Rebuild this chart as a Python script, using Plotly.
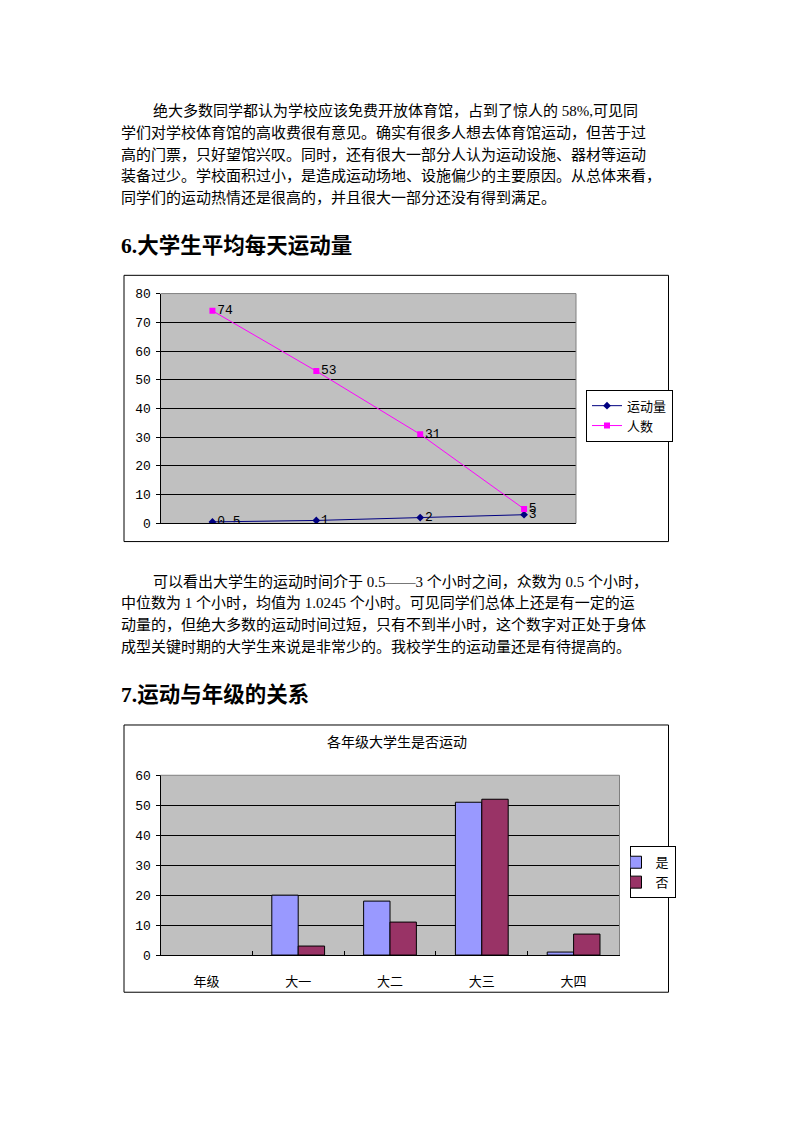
import plotly.graph_objects as go

PAGE_W = 794
OFF = 8  # default body margin of the page
W = PAGE_W - 2 * OFF
H = 1080  # keeps the page shorter than the window (no scrolling)


def px(x):
    return (x - OFF) / W


def py(y):
    return 1 - (y - OFF) / H


# ---------------- data ----------------
line_categories = ["1", "2", "3", "4"]
exercise_hours = [0.5, 1, 2, 3]
people_count = [74, 53, 31, 5]
hours_labels = ["0.5", "1", "2", "3"]
people_labels = ["74", "53", "31", "5"]
line_y_ticks = [0, 10, 20, 30, 40, 50, 60, 70, 80]

grades = ["年级", "大一", "大二", "大三", "大四"]
yes_values = [None, 20, 18, 51, 1]
no_values = [None, 3, 11, 52, 7]
bar_y_ticks = [0, 10, 20, 30, 40, 50, 60]

para1 = [
    "绝大多数同学都认为学校应该免费开放体育馆，占到了惊人的 58%,可见同",
    "学们对学校体育馆的高收费很有意见。确实有很多人想去体育馆运动，但苦于过",
    "高的门票，只好望馆兴叹。同时，还有很大一部分人认为运动设施、器材等运动",
    "装备过少。学校面积过小，是造成运动场地、设施偏少的主要原因。从总体来看，",
    "同学们的运动热情还是很高的，并且很大一部分还没有得到满足。",
]
para2 = [
    "可以看出大学生的运动时间介于 0.5——3 个小时之间，众数为 0.5 个小时，",
    "中位数为 1 个小时，均值为 1.0245 个小时。可见同学们总体上还是有一定的运",
    "动量的，但绝大多数的运动时间过短，只有不到半小时，这个数字对正处于身体",
    "成型关键时期的大学生来说是非常少的。我校学生的运动量还是有待提高的。",
]
heading1 = "6.大学生平均每天运动量"
heading2 = "7.运动与年级的关系"
bar_title = "各年级大学生是否运动"

TEXT_FONT = "Liberation Serif, Noto Sans CJK SC"
CJK = "Noto Sans CJK SC"
NUM = "Liberation Mono, Noto Sans CJK SC"

fig = go.Figure()

# line chart
fig.add_trace(go.Scatter(
    x=line_categories, y=exercise_hours, name="运动量",
    mode="lines+markers+text", text=hours_labels, textposition="middle right",
    textfont=dict(family=NUM, size=13, color="black"),
    line=dict(color="#000080", width=1),
    marker=dict(symbol="diamond", size=6, color="#000080"),
    xaxis="x", yaxis="y", legend="legend",
))
fig.add_trace(go.Scatter(
    x=line_categories, y=people_count, name="人数",
    mode="lines+markers+text", text=people_labels, textposition="middle right",
    textfont=dict(family=NUM, size=13, color="black"),
    line=dict(color="#FF00FF", width=1),
    marker=dict(symbol="square", size=6, color="#FF00FF"),
    xaxis="x", yaxis="y", legend="legend",
))

# bar chart
fig.add_trace(go.Bar(
    x=grades, y=yes_values, name="是",
    marker=dict(color="#9999FF", line=dict(color="black", width=1)),
    xaxis="x2", yaxis="y2", legend="legend2",
))
fig.add_trace(go.Bar(
    x=grades, y=no_values, name="否",
    marker=dict(color="#993366", line=dict(color="black", width=1)),
    xaxis="x2", yaxis="y2", legend="legend2",
))

# chart geometry (page pixels)
c1 = dict(l=160.5, r=576, t=291.5, b=524.5)
c2 = dict(l=160.5, r=619.5, t=780, b=962.3)

fig.update_layout(
    width=W, height=H,
    margin=dict(l=0, r=0, t=0, b=0),
    paper_bgcolor="white",
    plot_bgcolor="#C0C0C0",
    barmode="group", bargap=0.425, bargroupgap=0,
    font=dict(family=CJK, color="black"),
    xaxis=dict(
        domain=[px(c1["l"]), px(c1["r"])], anchor="y", type="category",
        range=[-0.5, 3.5], showticklabels=False, ticks="",
        showline=True, linecolor="black", linewidth=1,
        showgrid=False, zeroline=False,
    ),
    yaxis=dict(
        domain=[py(c1["b"]), py(c1["t"])], anchor="x",
        range=[0, 80], tickvals=line_y_ticks,
        ticks="outside", ticklen=4, tickcolor="black", ticklabelstandoff=2,
        tickfont=dict(family=NUM, size=13, color="black"),
        showline=True, linecolor="black", linewidth=1,
        showgrid=True, gridcolor="black", gridwidth=1, zeroline=False,
    ),
    xaxis2=dict(
        domain=[px(c2["l"]), px(c2["r"])], anchor="y2", type="category",
        range=[-0.5, 4.5], categoryarray=grades, categoryorder="array",
        ticks="inside", tickson="boundaries", ticklen=4, tickcolor="black",
        ticklabelstandoff=14,
        tickfont=dict(family=CJK, size=13, color="black"),
        showline=True, linecolor="black", linewidth=1,
        showgrid=False, zeroline=False,
    ),
    yaxis2=dict(
        domain=[py(c2["b"]), py(c2["t"])], anchor="x2",
        range=[0, 60], tickvals=bar_y_ticks,
        ticks="outside", ticklen=4, tickcolor="black", ticklabelstandoff=2,
        tickfont=dict(family=NUM, size=13, color="black"),
        showline=True, linecolor="black", linewidth=1,
        showgrid=True, gridcolor="black", gridwidth=1, zeroline=False,
    ),
    legend=dict(
        x=px(586), y=py(389), xanchor="left", yanchor="top",
        bgcolor="white", bordercolor="black", borderwidth=1,
        font=dict(family=CJK, size=13, color="black"),
        itemwidth=30, tracegroupgap=0,
    ),
    legend2=dict(
        x=px(629.5), y=py(852), xanchor="left", yanchor="top",
        bgcolor="white", bordercolor="black", borderwidth=1,
        font=dict(family=CJK, size=13, color="black"),
        itemwidth=30, tracegroupgap=0, indentation=-15,
    ),
)

shapes = []
for (x0, y0, x1, y1) in [(124, 273, 668.5, 543), (124, 729, 668.5, 1000)]:
    shapes.append(dict(type="rect", xref="paper", yref="paper",
                       x0=px(x0), y0=py(y0), x1=px(x1), y1=py(y1),
                       line=dict(color="black", width=1), layer="below"))
for c in (c1, c2):
    shapes.append(dict(type="line", xref="paper", yref="paper",
                       x0=px(c["l"]), y0=py(c["t"]), x1=px(c["r"]), y1=py(c["t"]),
                       line=dict(color="#808080", width=1), layer="above"))
    shapes.append(dict(type="line", xref="paper", yref="paper",
                       x0=px(c["r"]), y0=py(c["t"]), x1=px(c["r"]), y1=py(c["b"]),
                       line=dict(color="#808080", width=1), layer="above"))
fig.update_layout(shapes=shapes)

annotations = []
LINE_H = 22.3
TEXT_SIZE = 15
for block, y_first in ((para1, 105.5), (para2, 583.5)):
    for i, line in enumerate(block):
        x0 = 151 if i == 0 else 119
        annotations.append(dict(text=line, x=px(x0), y=py(y_first + i * LINE_H),
                                xref="paper", yref="paper", xanchor="left", yanchor="middle",
                                showarrow=False,
                                font=dict(family=TEXT_FONT, size=TEXT_SIZE, color="black")))
for text, y in [(heading1, 243), (heading2, 699)]:
    annotations.append(dict(text="<b>" + text + "</b>", x=px(119), y=py(y),
                            xref="paper", yref="paper", xanchor="left", yanchor="middle",
                            showarrow=False, font=dict(family=TEXT_FONT, size=21.5, color="black")))
annotations.append(dict(text=bar_title, x=px(396.5), y=py(745.5),
                        xref="paper", yref="paper", xanchor="center", yanchor="middle",
                        showarrow=False, font=dict(family=CJK, size=14, color="black")))
fig.update_layout(annotations=annotations)

fig.write_html("out.html")
